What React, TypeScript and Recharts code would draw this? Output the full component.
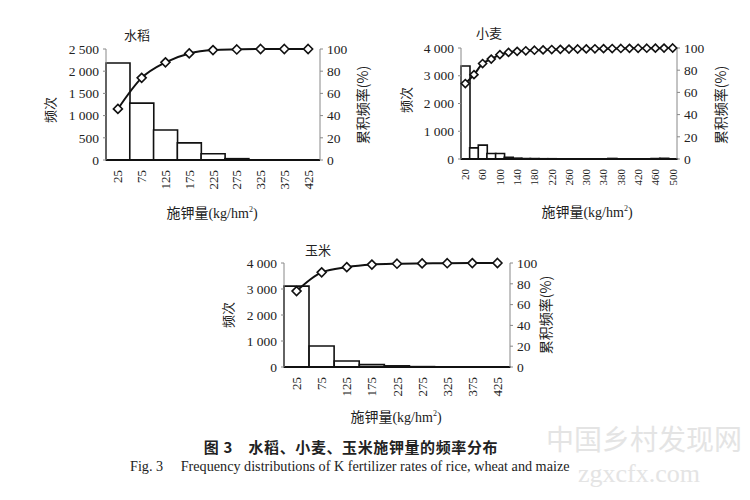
import React from 'react';
import { ComposedChart, Bar, Line, XAxis, YAxis } from 'recharts';

// ---- Data ----
const riceRates = ['25', '75', '125', '175', '225', '275', '325', '375', '425'];
const riceCounts = [2185, 1280, 675, 385, 140, 30, 5, 0, 0];
const riceCum = [46, 74, 88, 96, 99, 99.6, 100, 100, 100];

const wheatRates = ['20', '40', '60', '80', '100', '120', '140', '160', '180', '200', '220', '240', '260', '280', '300', '320', '340', '360', '380', '400', '420', '440', '460', '480', '500'];
const wheatCounts = [3350, 400, 500, 200, 200, 60, 30, 20, 15, 10, 10, 8, 6, 5, 5, 3, 4, 20, 3, 3, 3, 3, 20, 25, 5];
const wheatCum = [68, 76, 86, 90, 94, 96, 97, 97.5, 98, 98.3, 98.6, 98.8, 99, 99.1, 99.2, 99.3, 99.4, 99.5, 99.6, 99.7, 99.75, 99.8, 99.85, 99.9, 100];

const maizeRates = ['25', '75', '125', '175', '225', '275', '325', '375', '425'];
const maizeCounts = [3110, 805, 230, 90, 45, 15, 8, 5, 5];
const maizeCum = [73, 91, 96, 98.5, 99.3, 99.6, 99.8, 99.9, 100];

const riceCountTicks = [0, 500, 1000, 1500, 2000, 2500];
const bigCountTicks = [0, 1000, 2000, 3000, 4000];
const pctTicks = [0, 20, 40, 60, 80, 100];

const build = (rates: string[], counts: number[], cum: number[]) =>
  rates.map((r, i) => ({ x: r, count: counts[i], cum: cum[i] }));

const riceData = build(riceRates, riceCounts, riceCum);
const wheatData = build(wheatRates, wheatCounts, wheatCum);
const maizeData = build(maizeRates, maizeCounts, maizeCum);

const SERIF = '"Liberation Serif", "Times New Roman", serif';
const CJK = '"Noto Sans CJK SC", sans-serif';

const fmtCount = (v: number) => {
  const s = String(v);
  return s.length > 3 ? s.slice(0, s.length - 3) + ' ' + s.slice(s.length - 3) : s;
};

const Diamond = (r: number) => (props: any) => {
  const { cx, cy, index } = props;
  if (cx == null || cy == null) return <g key={index} />;
  return (
    <polygon
      key={index}
      points={`${cx},${cy - r} ${cx + r},${cy} ${cx},${cy + r} ${cx - r},${cy}`}
      fill="#fff"
      stroke="#111"
      strokeWidth={1.6}
    />
  );
};

const makeXTick = (size: number) => (props: any) => {
  const { x, y, payload } = props;
  return (
    <g transform={`translate(${x}, ${y + 2}) rotate(-90)`}>
      <text
        x={0}
        y={0}
        dy="0.35em"
        textAnchor="end"
        style={{ fontFamily: SERIF, fontSize: size, fill: '#222' }}
      >
        {payload.value}
      </text>
    </g>
  );
};

const YTick = (fmt?: (v: number) => string) => (props: any) => {
  const { x, y, payload, textAnchor } = props;
  return (
    <text
      x={x}
      y={y}
      dy="0.35em"
      textAnchor={textAnchor}
      style={{ fontFamily: SERIF, fontSize: 13.5, fill: '#222' }}
    >
      {fmt ? fmt(payload.value) : payload.value}
    </text>
  );
};

type PanelProps = {
  data: any[];
  left: number;
  top: number;
  width: number;
  height: number;
  marginTop: number;
  leftW: number;
  rightW: number;
  countMax: number;
  countTicks: number[];
  interval: number;
  dotR: number;
  xFont: number;
};

const Panel = (p: PanelProps) => (
  <div style={{ position: 'absolute', left: p.left, top: p.top, fontFamily: SERIF }}>
    <ComposedChart
      width={p.width}
      height={p.height}
      data={p.data}
      margin={{ top: p.marginTop, right: 0, bottom: 0, left: 0 }}
      barCategoryGap={0}
      barGap={0}
    >
      <XAxis
        dataKey="x"
        interval={p.interval}
        height={40}
        tickLine={false}
        tick={makeXTick(p.xFont)}
        axisLine={{ stroke: '#111', strokeWidth: 2 }}
        tickMargin={2}
      />
      <YAxis
        yAxisId="l"
        orientation="left"
        width={p.leftW}
        domain={[0, p.countMax]}
        ticks={p.countTicks}
        tick={YTick(fmtCount)}
        axisLine={{ stroke: '#888' }}
        tickLine={{ stroke: '#888' }}
        tickSize={3}
        tickMargin={4}
        interval={0}
      />
      <YAxis
        yAxisId="r"
        orientation="right"
        width={p.rightW}
        domain={[0, 100]}
        ticks={pctTicks}
        tick={YTick()}
        axisLine={{ stroke: '#888' }}
        tickLine={{ stroke: '#888' }}
        tickSize={3}
        tickMargin={4}
        interval={0}
      />
      <Bar
        yAxisId="l"
        dataKey="count"
        fill="#fff"
        stroke="#111"
        strokeWidth={1.6}
        isAnimationActive={false}
      />
      <Line
        yAxisId="r"
        dataKey="cum"
        type="monotone"
        stroke="#111"
        strokeWidth={2}
        dot={Diamond(p.dotR)}
        activeDot={false}
        isAnimationActive={false}
      />
    </ComposedChart>
  </div>
);

const T = (props: {
  x: number;
  y: number;
  text: string;
  size?: number;
  rot?: number;
  font?: string;
  weight?: any;
  color?: string;
  anchor?: 'center' | 'left';
  spacing?: number;
}) => {
  const { x, y, text, size = 13, rot = 0, font = CJK, weight = 'normal', color = '#222', anchor = 'center', spacing = 0 } = props;
  return (
    <div
      style={{
        position: 'absolute',
        left: x,
        top: y,
        transform: `translate(${anchor === 'center' ? '-50%' : '0'}, -50%) rotate(${rot}deg)`,
        transformOrigin: anchor === 'center' ? '50% 50%' : '0 50%',
        fontFamily: font,
        fontSize: size,
        fontWeight: weight,
        color,
        whiteSpace: 'pre',
        lineHeight: 1,
        letterSpacing: spacing,
      }}
    >
      {text}
    </div>
  );
};

const AxisTitle = ({ x, y }: { x: number; y: number }) => (
  <div
    style={{
      position: 'absolute',
      left: x,
      top: y,
      transform: 'translate(-50%, -50%)',
      fontSize: 14,
      color: '#222',
      whiteSpace: 'pre',
      lineHeight: 1,
    }}
  >
    <span style={{ fontFamily: CJK }}>施钾量</span>
    <span style={{ fontFamily: SERIF }}>
      (kg/hm<sup style={{ fontSize: 8 }}>2</sup>)
    </span>
  </div>
);

export default function App() {
  return (
    <div
      style={{
        position: 'absolute',
        left: 0,
        top: 0,
        width: 750,
        height: 500,
        background: '#fff',
        overflow: 'hidden',
      }}
    >
      {/* watermark */}
      <T x={546} y={438} text="中国乡村发现网" size={28} color="#e4e4e4" anchor="left" />
      <T x={578} y={474} text="zgxcfx.com" size={26} font={SERIF} color="#e4e4e4" anchor="left" />

      <Panel
        data={riceData}
        left={40}
        top={40}
        width={330}
        height={160}
        marginTop={9}
        leftW={66}
        rightW={50}
        countMax={2500}
        countTicks={riceCountTicks}
        interval={0}
        dotR={4.5}
        xFont={13}
      />
      <Panel
        data={wheatData}
        left={400}
        top={40}
        width={327}
        height={159}
        marginTop={8}
        leftW={61}
        rightW={50}
        countMax={4000}
        countTicks={bigCountTicks}
        interval={1}
        dotR={4}
        xFont={11}
      />
      <Panel
        data={maizeData}
        left={220}
        top={250}
        width={340}
        height={157}
        marginTop={13}
        leftW={64}
        rightW={50}
        countMax={4000}
        countTicks={bigCountTicks}
        interval={0}
        dotR={4.5}
        xFont={13}
      />

      {/* rice labels */}
      <T x={137} y={34} text="水稻" />
      <T x={49} y={110} text="频次" rot={-90} />
      <T x={362} y={105} text="累积频率(%)" rot={-90} size={14} />
      <AxisTitle x={212} y={213} />

      {/* wheat labels */}
      <T x={405} y={100} text="频次" rot={-90} />
      <T x={489} y={32} text="小麦" />
      <T x={720} y={105} text="累积频率(%)" rot={-90} size={14} />
      <AxisTitle x={587} y={212} />

      {/* maize labels */}
      <T x={318} y={249} text="玉米" />
      <T x={227} y={315} text="频次" rot={-90} />
      <T x={545} y={315} text="累积频率(%)" rot={-90} size={14} />
      <AxisTitle x={396} y={417} />

      {/* caption */}
      <T x={351} y={446} text="图 3　水稻、小麦、玉米施钾量的频率分布" size={15} weight="bold" spacing={0.6} />
      <T x={130} y={466} text="Fig. 3　 Frequency distributions of K fertilizer rates of rice, wheat and maize" size={14.2} font={SERIF} anchor="left" />
    </div>
  );
}
